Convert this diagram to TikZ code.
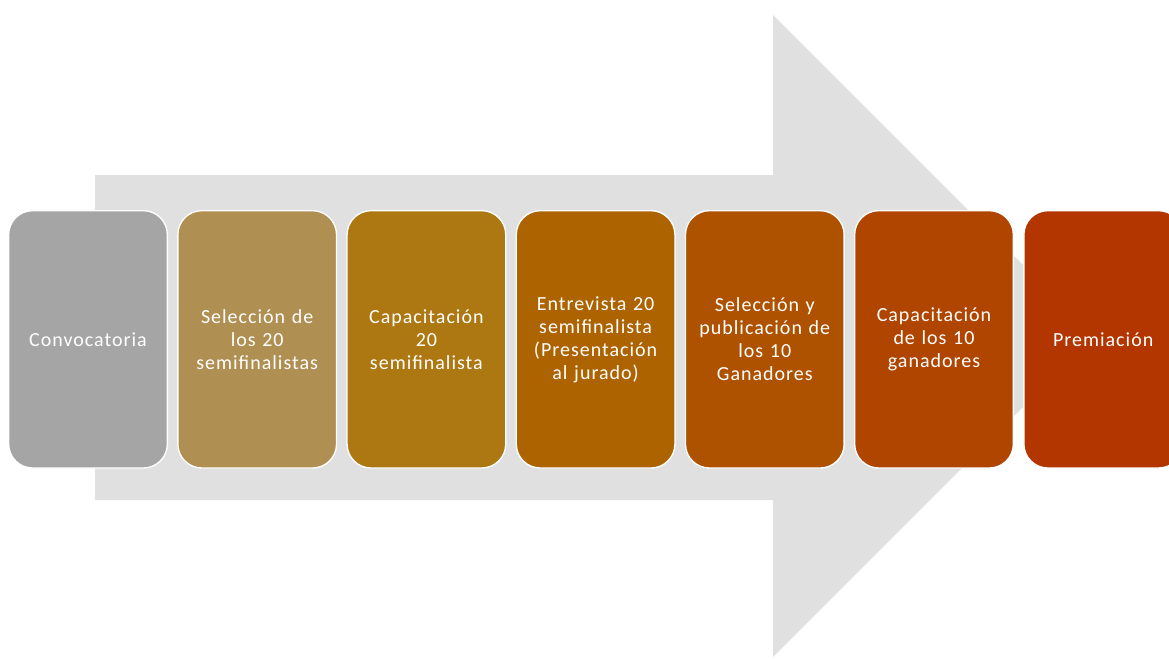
\documentclass[tikz,border=0pt]{standalone}
\usepackage{fontspec}
\setmainfont{Carlito}[LetterSpace=5]
\usepackage{tikz}
\usetikzlibrary{positioning}
\definecolor{flecha}{RGB}{224,224,224}
\definecolor{paso1}{RGB}{165,165,165}
\definecolor{paso2}{RGB}{176,143,82}
\definecolor{paso3}{RGB}{173,119,17}
\definecolor{paso4}{RGB}{173,99,0}
\definecolor{paso5}{RGB}{175,82,0}
\definecolor{paso6}{RGB}{176,69,0}
\definecolor{paso7}{RGB}{179,53,0}
\tikzstyle{etapa}=[draw=white,line width=1pt,rounded corners=18pt,minimum width=119pt,minimum height=193pt,text width=112pt,align=center,text=white,inner sep=0pt,font=\fontsize{15}{17.25}\selectfont]

\begin{document}
\begin{tikzpicture}[x=0.75pt,y=-0.75pt,node distance=6.9pt]
\useasboundingbox (0,0) rectangle (1169,658);
% flecha de fondo
\fill[flecha] (95,175) -- (773,175) -- (773,15) -- (1094,336) -- (773,657) -- (773,500) -- (95,500) -- cycle;

\node [etapa,fill=paso1,anchor=north west] (conv) at (8,210) {Convocatoria};
\node [etapa,fill=paso2,right=of conv] (sel) {Selección de\\los 20\\semifinalistas};
\node [etapa,fill=paso3,right=of sel] (cap) {Capacitación\\20\\semifinalista};
\node [etapa,fill=paso4,right=of cap] (entr) {Entrevista 20\\semifinalista\\(Presentación\\al jurado)};
\node [etapa,fill=paso5,right=of entr] (publ) {Selección y\\publicación de\\los 10\\Ganadores};
\node [etapa,fill=paso6,right=of publ] (capg) {Capacitación\\de los 10\\ganadores};
\node [etapa,fill=paso7,right=of capg] (prem) {Premiación};
\end{tikzpicture}
\end{document}
